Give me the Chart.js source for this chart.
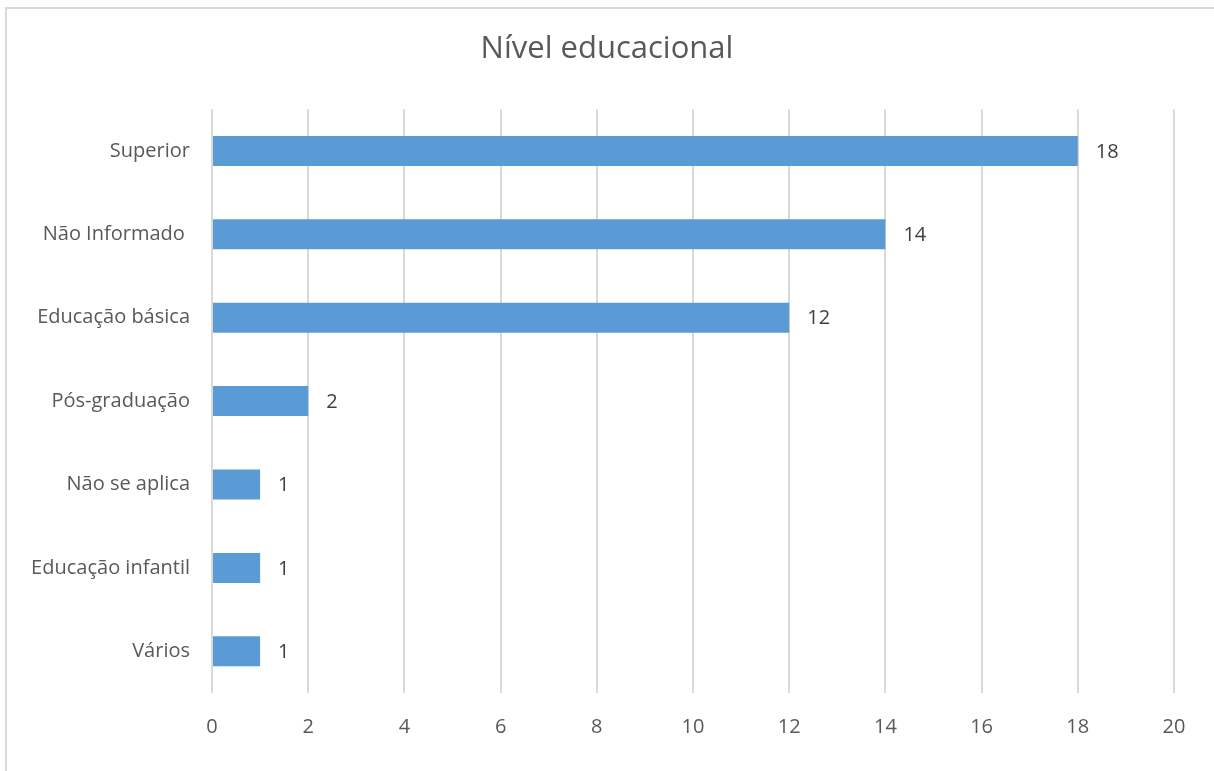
<!DOCTYPE html>
<html>
<head>
<meta charset="utf-8">
<script src="https://cdn.jsdelivr.net/npm/chart.js@4/dist/chart.umd.min.js"></script>
<style>
html,body{margin:0;padding:0;background:#fff;overflow:hidden;}
#wrap{position:absolute;left:0;top:0;width:1214px;height:771px;}
#frame{position:absolute;left:5px;top:7px;width:1400px;height:1000px;border:2px solid #d9d9d9;box-sizing:border-box;pointer-events:none;}
</style>
</head>
<body>
<div id="wrap"><canvas id="c" width="1214" height="771"></canvas></div>
<div id="frame"></div>
<script>
const categories = ["Superior", "Não Informado ", "Educação básica", "Pós-graduação", "Não se aplica", "Educação infantil", "Vários"];
const values = [18, 14, 12, 2, 1, 1, 1];
const chartTitle = "Nível educacional";

const fontFam = "'Open Sans', 'Liberation Sans', sans-serif";

const valueLabels = {
  id: 'valueLabels',
  afterDatasetsDraw(chart) {
    const ctx = chart.ctx;
    const meta = chart.getDatasetMeta(0);
    ctx.save();
    ctx.fillStyle = '#404040';
    ctx.font = "20px " + fontFam;
    ctx.textAlign = 'left';
    ctx.textBaseline = 'middle';
    meta.data.forEach((bar, i) => {
      ctx.fillText(String(values[i]), bar.x + 18, bar.y + 1);
    });
    ctx.restore();
  }
};

new Chart(document.getElementById('c'), {
  type: 'bar',
  data: {
    labels: categories,
    datasets: [{
      data: values,
      backgroundColor: '#5B9BD5',
      borderWidth: 0,
      barPercentage: 0.6,
      categoryPercentage: 0.6
    }]
  },
  options: {
    indexAxis: 'y',
    responsive: false,
    animation: false,
    layout: { padding: 0 },
    plugins: {
      legend: { display: false },
      tooltip: { enabled: false },
      title: {
        display: true,
        text: chartTitle,
        color: '#595959',
        font: { family: fontFam, size: 31, weight: 'normal' },
        padding: { top: 31, bottom: 41 }
      }
    },
    scales: {
      x: {
        min: 0, max: 20,
        ticks: { stepSize: 2, color: '#595959', font: { family: fontFam, size: 20 }, padding: 22 },
        grid: { color: '#d9d9d9', lineWidth: 2, drawTicks: false },
        border: { display: false },
        afterFit(scale) { scale.height = 78; }
      },
      y: {
        ticks: { color: '#595959', font: { family: fontFam, size: 20 }, padding: 22 },
        grid: { display: false, drawTicks: false },
        border: { display: false },
        afterFit(scale) { scale.width = 212; }
      },
      yRight: {
        axis: 'y',
        position: 'right',
        display: true,
        ticks: { display: false },
        grid: { display: false, drawTicks: false },
        border: { display: false },
        afterFit(scale) { scale.width = 40; }
      }
    }
  },
  plugins: [valueLabels]
});
</script>
</body>
</html>
